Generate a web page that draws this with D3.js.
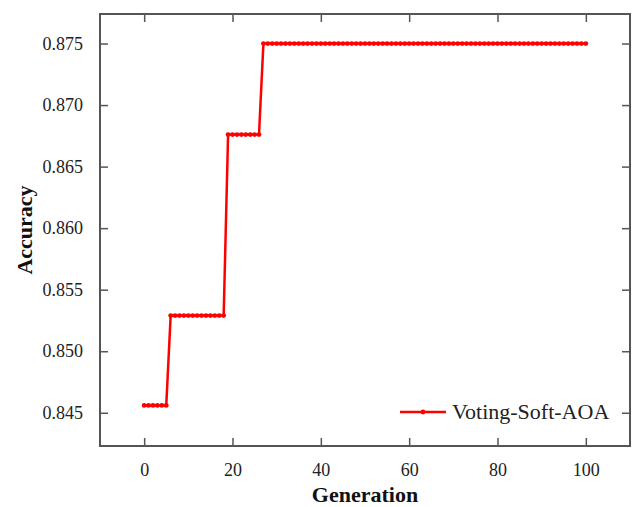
<!DOCTYPE html>
<html>
<head>
<meta charset="utf-8">
<script src="https://cdn.jsdelivr.net/npm/d3@7"></script>
<style>
  body { margin: 0; background: #fff; }
  svg { display: block; font-family: "Liberation Serif", "Times New Roman", serif; }
  svg text { font-family: "Liberation Serif", "Times New Roman", serif; }
</style>
</head>
<body>
<div id="chart"></div>
<script>
// accuracy per generation (generation = index, 0..100)
var accuracy = [
  0.8456, 0.8456, 0.8456, 0.8456, 0.8456, 0.8456,
  0.8529, 0.8529, 0.8529, 0.8529, 0.8529, 0.8529, 0.8529, 0.8529, 0.8529, 0.8529, 0.8529, 0.8529, 0.8529,
  0.8676, 0.8676, 0.8676, 0.8676, 0.8676, 0.8676, 0.8676, 0.8676,
  0.875, 0.875, 0.875, 0.875, 0.875, 0.875, 0.875, 0.875, 0.875, 0.875,
  0.875, 0.875, 0.875, 0.875, 0.875, 0.875, 0.875, 0.875, 0.875, 0.875,
  0.875, 0.875, 0.875, 0.875, 0.875, 0.875, 0.875, 0.875, 0.875, 0.875,
  0.875, 0.875, 0.875, 0.875, 0.875, 0.875, 0.875, 0.875, 0.875, 0.875,
  0.875, 0.875, 0.875, 0.875, 0.875, 0.875, 0.875, 0.875, 0.875, 0.875,
  0.875, 0.875, 0.875, 0.875, 0.875, 0.875, 0.875, 0.875, 0.875, 0.875,
  0.875, 0.875, 0.875, 0.875, 0.875, 0.875, 0.875, 0.875, 0.875, 0.875,
  0.875, 0.875, 0.875, 0.875
];
var xTicks = [0, 20, 40, 60, 80, 100];
var yTicks = [0.845, 0.850, 0.855, 0.860, 0.865, 0.870, 0.875];
var seriesName = "Voting-Soft-AOA";

var width = 633, height = 507;
var plotLeft = 100, plotRight = 630, plotTop = 14, plotBottom = 446;
var red = "#ff0000", frameColor = "#555";
var serif = "'Liberation Serif', 'Times New Roman', serif";

var svg = d3.select("#chart").append("svg")
    .attr("width", width)
    .attr("height", height);

var x = d3.scaleLinear().domain([-10, 110]).range([plotLeft, plotRight]);
var y = d3.scaleLinear().domain([0.8423, 0.8774]).range([plotBottom, plotTop]);

// axes, ticks pointing inward
var fmt = d3.format(".3f");
function styleAxis(g) {
  g.attr("font-family", serif).attr("font-size", 18);
  g.select(".domain").remove();
  g.selectAll(".tick line").attr("stroke", frameColor).attr("stroke-width", 1.5);
  g.selectAll(".tick text").attr("fill", "#222");
}
svg.append("g").attr("transform", "translate(0," + plotBottom + ")")
  .call(d3.axisBottom(x).tickValues(xTicks).tickSizeInner(-8).tickPadding(17))
  .call(styleAxis);
svg.append("g").attr("transform", "translate(0," + plotTop + ")")
  .call(d3.axisTop(x).tickValues(xTicks).tickSizeInner(-8).tickFormat(""))
  .call(styleAxis);
svg.append("g").attr("transform", "translate(" + plotLeft + ",0)")
  .call(d3.axisLeft(y).tickValues(yTicks).tickSizeInner(-8).tickPadding(17).tickFormat(fmt))
  .call(styleAxis);
svg.append("g").attr("transform", "translate(" + plotRight + ",0)")
  .call(d3.axisRight(y).tickValues(yTicks).tickSizeInner(-8).tickFormat(""))
  .call(styleAxis);

// frame
svg.append("rect")
  .attr("x", plotLeft).attr("y", plotTop)
  .attr("width", plotRight - plotLeft).attr("height", plotBottom - plotTop)
  .attr("fill", "none").attr("stroke", frameColor).attr("stroke-width", 2);

// series
var line = d3.line()
  .x(function(d, i) { return x(i); })
  .y(function(d) { return y(d); });

svg.append("path")
  .datum(accuracy)
  .attr("d", line)
  .attr("fill", "none")
  .attr("stroke", red)
  .attr("stroke-width", 2.5);

svg.append("g").selectAll("circle")
  .data(accuracy)
  .enter().append("circle")
  .attr("cx", function(d, i) { return x(i); })
  .attr("cy", function(d) { return y(d); })
  .attr("r", 2.4)
  .attr("fill", red);

// axis titles
svg.append("text")
  .attr("x", (plotLeft + plotRight) / 2).attr("y", 502)
  .attr("text-anchor", "middle")
  .attr("font-family", serif)
  .style("font-size", "22px").style("font-weight", "bold")
  .attr("fill", "#111")
  .text("Generation");

svg.append("text")
  .attr("transform", "translate(32," + (plotTop + plotBottom) / 2 + ") rotate(-90)")
  .attr("text-anchor", "middle")
  .attr("font-family", serif)
  .style("font-size", "22px").style("font-weight", "bold")
  .attr("fill", "#111")
  .text("Accuracy");

// legend
var legend = svg.append("g").attr("transform", "translate(400,412)");
legend.append("line")
  .attr("x1", 0).attr("x2", 46).attr("y1", 0).attr("y2", 0)
  .attr("stroke", red).attr("stroke-width", 2.5);
legend.append("circle").attr("cx", 23).attr("cy", 0).attr("r", 2.4).attr("fill", red);
legend.append("text")
  .attr("x", 52).attr("y", 6.5)
  .attr("font-family", serif)
  .style("font-size", "22px")
  .attr("fill", "#222")
  .text(seriesName);
</script>
</body>
</html>
